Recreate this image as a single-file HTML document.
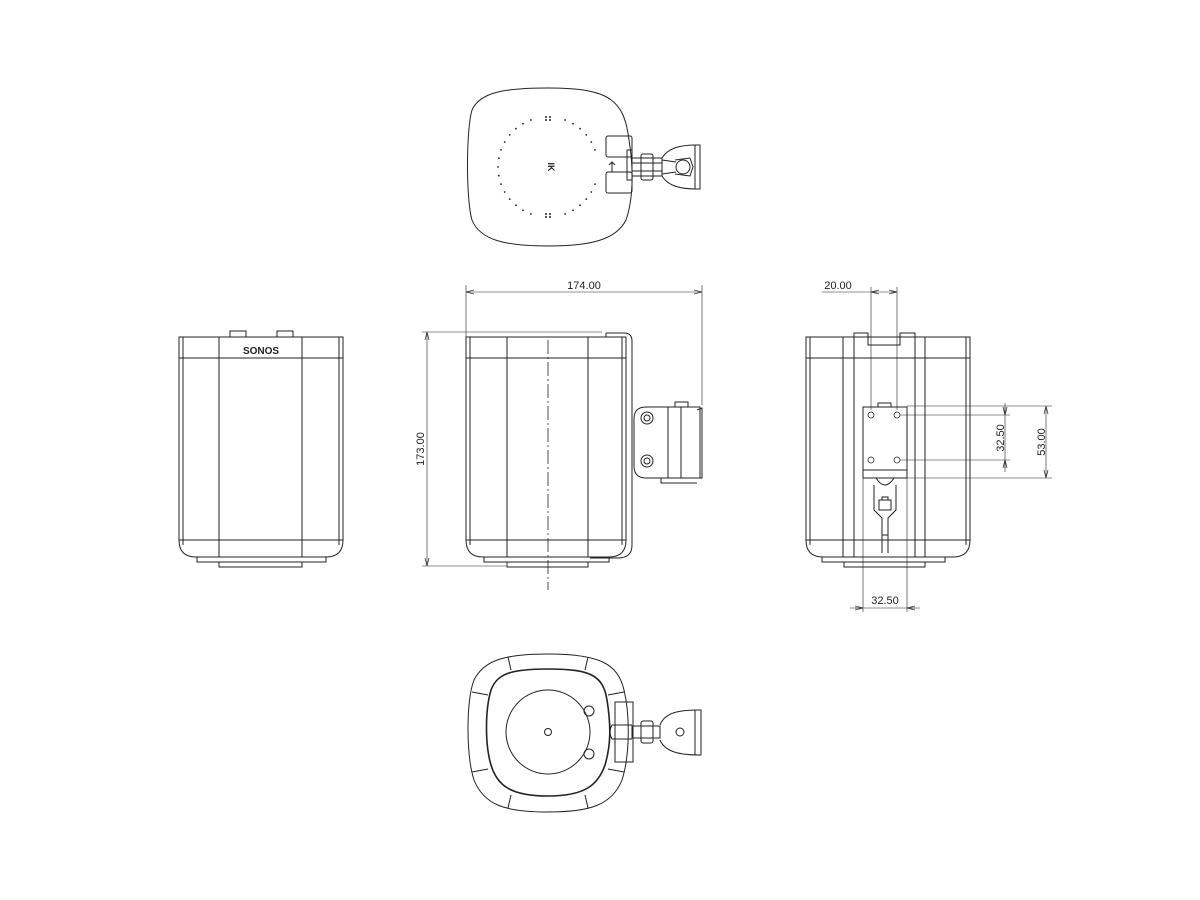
<!DOCTYPE html>
<html><head><meta charset="utf-8"><style>
html,body{margin:0;padding:0;background:#fff;}
svg{display:block;}
text{font-family:"Liberation Sans",sans-serif;fill:#222;}
</style></head><body>
<svg width="1200" height="900" viewBox="0 0 1200 900" xmlns="http://www.w3.org/2000/svg">
<defs>
<marker id="a" markerWidth="8" markerHeight="6" refX="8" refY="3" orient="auto-start-reverse" markerUnits="userSpaceOnUse"><path d="M0,1 L8,3 L0,5" fill="none" stroke="#333" stroke-width="0.8"/></marker>
</defs>
<g fill="none" stroke="#222" stroke-width="1">

<!-- TOP VIEW -->
<path d="M548,88 C610,88 624,100 629,140 C634,170 633,200 626,220 C616,240 590,246 548,246 C505,246 480,240 472,220 C466,200 466,130 472,110 C480,92 505,88 548,88 Z"/>
<g fill="#222" stroke="none">
<circle cx="546" cy="117" r="1"/><circle cx="550" cy="117" r="1"/><circle cx="546" cy="120" r="1"/><circle cx="550" cy="120" r="1"/>
<circle cx="546" cy="214" r="1"/><circle cx="550" cy="214" r="1"/><circle cx="546" cy="217" r="1"/><circle cx="550" cy="217" r="1"/>
<circle cx="595" cy="184.1" r="0.9"/><circle cx="591.3" cy="192" r="0.9"/><circle cx="586.3" cy="199.1" r="0.9"/><circle cx="580.1" cy="205.3" r="0.9"/><circle cx="573" cy="210.3" r="0.9"/><circle cx="565.1" cy="214" r="0.9"/>
<circle cx="530.9" cy="214" r="0.9"/><circle cx="523" cy="210.3" r="0.9"/><circle cx="515.9" cy="205.3" r="0.9"/><circle cx="509.7" cy="199.1" r="0.9"/><circle cx="504.7" cy="192" r="0.9"/><circle cx="501" cy="184.1" r="0.9"/><circle cx="498.8" cy="175.7" r="0.9"/><circle cx="498" cy="167" r="0.9"/><circle cx="498.8" cy="158.3" r="0.9"/><circle cx="501" cy="149.9" r="0.9"/><circle cx="504.7" cy="142" r="0.9"/><circle cx="509.7" cy="134.9" r="0.9"/><circle cx="515.9" cy="128.7" r="0.9"/><circle cx="523" cy="123.7" r="0.9"/><circle cx="530.9" cy="120" r="0.9"/>
<circle cx="565.1" cy="120" r="0.9"/><circle cx="573" cy="123.7" r="0.9"/><circle cx="580.1" cy="128.7" r="0.9"/><circle cx="586.3" cy="134.9" r="0.9"/><circle cx="591.3" cy="142" r="0.9"/><circle cx="595" cy="149.9" r="0.9"/>
</g>
<text x="548" y="167" font-size="9" text-anchor="middle" stroke="none" transform="rotate(90 548 167)" font-weight="bold">IK</text>
<path d="M609,165 L612,162 L615,165 M612,162 L612,172"/>
<rect x="606" y="136" width="26" height="21" rx="2"/>
<rect x="606" y="172" width="26" height="21" rx="2"/>
<rect x="627" y="150" width="5" height="30"/>
<rect x="632" y="158" width="30" height="18"/>
<line x1="632" y1="163" x2="662" y2="163"/><line x1="632" y1="171" x2="662" y2="171"/>
<rect x="641" y="154" width="12" height="26" rx="2"/>
<path d="M662,158 C668,148 680,145 697,145 L700,145 L700,189 L697,189 C680,189 668,186 662,176"/>
<line x1="695" y1="145" x2="695" y2="189"/>
<path d="M662,160 L676,162 M662,174 L676,172"/>
<circle cx="683" cy="167" r="7"/>
<path d="M675,160 L690,158 L693,167 L690,176 L675,174"/>

<!-- LEFT VIEW -->
<path d="M179,337 L343,337 L343,540 Q343,557 326,557 L196,557 Q179,557 179,540 Z"/>
<line x1="179" y1="358" x2="343" y2="358"/>
<line x1="183" y1="337" x2="183" y2="545"/><line x1="339" y1="337" x2="339" y2="545"/>
<line x1="219" y1="337" x2="219" y2="557"/><line x1="302" y1="337" x2="302" y2="557"/>
<line x1="179" y1="540" x2="343" y2="540"/>
<rect x="230" y="331" width="16" height="6"/><rect x="277" y="331" width="16" height="6"/>
<rect x="197" y="557" width="129" height="5"/>
<rect x="219" y="562" width="83" height="5"/>
<text x="261" y="354" font-size="10" font-weight="bold" text-anchor="middle" stroke="none">SONOS</text>

<!-- FRONT VIEW -->
<path d="M466,337 L626,337 L626,540 Q626,557 609,557 L483,557 Q466,557 466,540 Z"/>
<line x1="466" y1="358" x2="626" y2="358"/>
<line x1="507" y1="337" x2="507" y2="557"/><line x1="588" y1="337" x2="588" y2="557"/>
<line x1="470" y1="337" x2="470" y2="545"/><line x1="622" y1="337" x2="622" y2="545"/>
<line x1="466" y1="540" x2="626" y2="540"/>
<line x1="548" y1="340" x2="548" y2="590" stroke-dasharray="14,3,2,3" stroke-width="0.8"/>
<path d="M606,333 L624,333 Q632,333 632,341 L632,545 Q632,558 618,558 L590,558"/>
<line x1="606" y1="333" x2="606" y2="337"/>
<rect x="484" y="557" width="125" height="5"/>
<rect x="507" y="562" width="81" height="5"/>
<path d="M646,407 L700,407 L700,478 L646,478 Q634,478 634,466 L634,419 Q634,407 646,407 Z"/>
<circle cx="647" cy="418" r="6"/><circle cx="647" cy="418" r="3"/>
<circle cx="647" cy="461" r="6"/><circle cx="647" cy="461" r="3"/>
<line x1="668" y1="407" x2="668" y2="478"/><line x1="681" y1="407" x2="681" y2="478"/>
<rect x="675" y="402" width="13" height="5"/>
<path d="M697,410 L702,408 L702,478 L661,478 L661,483 L697,483"/>
<line x1="466" y1="285" x2="466" y2="337" stroke-width="0.6"/>
<line x1="702" y1="285" x2="702" y2="405" stroke-width="0.6"/>
<line x1="466" y1="292" x2="702" y2="292" stroke-width="0.6" marker-start="url(#a)" marker-end="url(#a)"/>
<text x="584" y="289" font-size="11" text-anchor="middle" stroke="none">174.00</text>
<line x1="422" y1="332" x2="602" y2="332" stroke-width="0.6"/>
<line x1="422" y1="566" x2="506" y2="566" stroke-width="0.6"/>
<line x1="427" y1="332" x2="427" y2="566" stroke-width="0.6" marker-start="url(#a)" marker-end="url(#a)"/>
<text x="424" y="449" font-size="11" text-anchor="middle" stroke="none" transform="rotate(-90 424 449)">173.00</text>

<!-- RIGHT VIEW -->
<path d="M806,337 L970,337 L970,540 Q970,557 953,557 L823,557 Q806,557 806,540 Z"/>
<line x1="806" y1="358" x2="970" y2="358"/>
<line x1="810" y1="337" x2="810" y2="545"/><line x1="966" y1="337" x2="966" y2="545"/>
<line x1="843" y1="337" x2="843" y2="557"/><line x1="925" y1="337" x2="925" y2="557"/>
<line x1="806" y1="540" x2="970" y2="540"/>
<path d="M854,557 L854,333 L868,333 L868,345 L900,345 L900,333 L915,333 L915,557"/>
<line x1="868" y1="337" x2="900" y2="337"/>
<rect x="822" y="557" width="123" height="5"/>
<rect x="844" y="562" width="81" height="5"/>
<rect x="863" y="407" width="44" height="71"/>
<line x1="863" y1="470" x2="907" y2="470"/>
<rect x="878" y="403" width="13" height="4"/>
<g stroke-width="0.8">
<circle cx="871" cy="415" r="3"/><circle cx="897" cy="415" r="3"/>
<circle cx="871" cy="460" r="3"/><circle cx="897" cy="460" r="3"/>
</g>
<path d="M876,478 Q885,492 894,478"/>
<path d="M874,485 L874,510 L882,518 L882,553 M896,485 L896,510 L888,518 L888,553"/>
<rect x="879" y="500" width="12" height="10"/><rect x="882" y="497" width="6" height="3"/>
<line x1="882" y1="535" x2="888" y2="535"/><line x1="882" y1="540" x2="888" y2="540"/>
<g stroke-width="0.6">
<line x1="871" y1="287" x2="871" y2="410"/><line x1="897" y1="287" x2="897" y2="410"/>
<line x1="822" y1="292" x2="897" y2="292"/>
<line x1="877" y1="292" x2="871" y2="292" marker-end="url(#a)"/>
<line x1="891" y1="292" x2="897" y2="292" marker-end="url(#a)"/>
<line x1="907" y1="406" x2="1052" y2="406"/>
<line x1="900" y1="415" x2="1010" y2="415"/>
<line x1="900" y1="460" x2="1010" y2="460"/>
<line x1="907" y1="478" x2="1052" y2="478"/>
<line x1="1005" y1="403" x2="1005" y2="472"/>
<line x1="1005" y1="407" x2="1005" y2="415" marker-end="url(#a)"/>
<line x1="1005" y1="468" x2="1005" y2="460" marker-end="url(#a)"/>
<line x1="1046" y1="406" x2="1046" y2="478" marker-start="url(#a)" marker-end="url(#a)"/>
<line x1="863" y1="478" x2="863" y2="612"/><line x1="907" y1="478" x2="907" y2="612"/>
<line x1="850" y1="608" x2="920" y2="608"/>
<line x1="855" y1="608" x2="863" y2="608" marker-end="url(#a)"/>
<line x1="915" y1="608" x2="907" y2="608" marker-end="url(#a)"/>
</g>
<text x="838" y="289" font-size="11" text-anchor="middle" stroke="none">20.00</text>
<text x="1004" y="438" font-size="11" text-anchor="middle" stroke="none" transform="rotate(-90 1004 438)">32.50</text>
<text x="1045" y="442" font-size="11" text-anchor="middle" stroke="none" transform="rotate(-90 1045 442)">53.00</text>
<text x="885" y="604" font-size="11" text-anchor="middle" stroke="none">32.50</text>

<!-- BOTTOM VIEW -->
<path d="M548,654 C600,654 618,664 624,690 C630,715 630,755 622,780 C612,805 590,812 548,812 C505,812 484,805 474,780 C466,755 466,700 474,680 C484,660 505,654 548,654 Z"/>
<path d="M548,669 C592,669 603,676 607,700 C611,725 611,745 605,765 C598,785 585,796 548,796 C510,796 497,785 491,765 C485,745 485,710 491,690 C497,674 510,669 548,669 Z" stroke-width="1.6"/>
<line x1="508" y1="657" x2="511" y2="670"/><line x1="588" y1="657" x2="585" y2="670"/>
<line x1="508" y1="808" x2="511" y2="795"/><line x1="588" y1="808" x2="585" y2="795"/>
<line x1="472" y1="692" x2="488" y2="695"/><line x1="472" y1="772" x2="488" y2="769"/>
<line x1="624" y1="692" x2="608" y2="695"/><line x1="624" y1="772" x2="608" y2="769"/>
<circle cx="548" cy="732" r="42"/>
<circle cx="548" cy="732" r="3.5"/>
<circle cx="589" cy="711" r="5"/><circle cx="589" cy="754" r="5"/>
<rect x="615" y="702" width="18" height="60"/>
<path d="M632,725 L612,725 Q608,732 612,739 L632,739"/>
<rect x="632" y="726" width="28" height="12"/>
<rect x="641" y="721" width="12" height="22" rx="2"/>
<path d="M660,725 C665,712 680,710 700,710 L701,710 L701,755 L700,755 C680,755 665,752 660,740"/>
<line x1="695" y1="710" x2="695" y2="755"/>
<circle cx="680" cy="732" r="4"/>
</g>
</svg>
</body></html>
